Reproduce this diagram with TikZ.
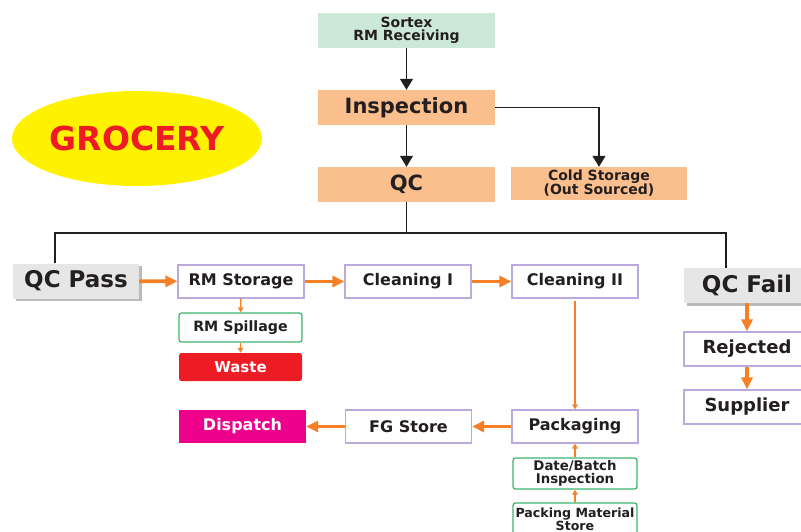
\documentclass[tikz,border=0pt]{standalone}
\usepackage{fontspec}
\setmainfont{DejaVu Sans}
\usetikzlibrary{arrows.meta,shadows,shapes.geometric}
\definecolor{sortexgreen}{HTML}{CCE8D8}
\definecolor{peach}{HTML}{FBBF8D}
\definecolor{boxpurple}{HTML}{B9A9DC}
\definecolor{boxgreen}{HTML}{3DB66E}
\definecolor{arrorange}{HTML}{F58025}
\definecolor{wastered}{HTML}{ED1C24}
\definecolor{magenta2}{HTML}{EC008C}
\definecolor{greyfill}{HTML}{E6E6E6}
\definecolor{yellow2}{HTML}{FFF200}
\definecolor{lineblack}{HTML}{231F20}
\newcommand{\fs}[2]{\fontsize{#1}{#2}\selectfont}
\begin{document}
\begin{tikzpicture}[x=1pt,y=-1pt,
  every node/.style={inner sep=0pt, text=lineblack, align=center},
  peachbox/.style={fill=peach, minimum width=177, minimum height=35},
  pbox/.style={draw=boxpurple, line width=1.2pt, fill=white, minimum width=126, minimum height=33, font=\bfseries\fs{16}{18}},
  gbox/.style={draw=boxgreen, line width=1.3pt, rounded corners=2.5pt, fill=white, minimum width=123, minimum height=29},
  greybox/.style={fill=greyfill, minimum width=126, minimum height=35, font=\bfseries\fs{23}{26},
     drop shadow={shadow xshift=2.5pt, shadow yshift=-2.5pt, fill=black!45, opacity=0.6}},
  blkline/.style={draw=lineblack, line width=1.3pt},
  blkarr/.style={blkline, -{Triangle[width=13pt,length=11pt]}},
  oarr/.style={draw=arrorange, line width=3.8pt, -{Triangle[width=11pt,length=12pt]}},
  othin/.style={draw=arrorange, line width=1.4pt, -{Triangle[width=5.5pt,length=5pt]}}
]
\useasboundingbox (0,0) rectangle (801,532);

% top column
\node[fill=sortexgreen, minimum width=177, minimum height=35, font=\bfseries\fs{14}{13.5}] (sortex) at (406.5,30.5) {Sortex\\RM Receiving};
\node[peachbox, font=\bfseries\fs{21}{24}] (insp) at (406.5,107.5) {Inspection};
\node[peachbox, font=\bfseries\fs{21}{24}] (qc) at (406.5,184.5) {QC};
\node[fill=peach, minimum width=176, minimum height=33, font=\bfseries\fs{14}{14}] (cold) at (599,183.5) {Cold Storage\\(Out Sourced)};

% title ellipse
\node[ellipse, fill=yellow2, minimum width=250, minimum height=95, text=wastered, font=\bfseries\fs{33}{36}] (groc) at (137,138.5) {GROCERY};

% middle row
\node[greybox] (qcpass) at (76,281) {QC Pass};
\node[pbox] (rmst) at (241,281.5) {RM Storage};
\node[pbox] (cl1) at (408,281.5) {Cleaning I};
\node[pbox] (cl2) at (575,281.5) {Cleaning II};
\node[greybox] (qcfail) at (747,285.5) {QC Fail};
\node[pbox, minimum height=34, font=\bfseries\fs{18}{20}] (rej) at (747,349) {Rejected};
\node[pbox, minimum height=34, font=\bfseries\fs{18}{20}] (sup) at (747,407) {Supplier};

\node[gbox, font=\bfseries\fs{14.2}{16}] (spill) at (240.5,327.5) {RM Spillage};
\node[fill=wastered, rounded corners=2.5pt, minimum width=123, minimum height=28, text=white, font=\bfseries\fs{15}{17}] (waste) at (240.5,367) {Waste};

% bottom row
\node[pbox] (pack) at (575,426.5) {Packaging};
\node[pbox] (fg) at (408.5,426.5) {FG Store};
\node[fill=magenta2, minimum width=127, minimum height=33, text=white, font=\bfseries\fs{16}{18}] (disp) at (242.5,426.5) {Dispatch};
\node[gbox, minimum width=124, minimum height=31, font=\bfseries\fs{13.3}{12.5}] (date) at (575,473.5) {Date/Batch\\Inspection};
\node[gbox, minimum width=124, minimum height=32, font=\bfseries\fs{12.6}{12.8}] (pms) at (575,519) {Packing Material\\Store};

% black connectors
\draw[blkarr] (sortex) -- (insp);
\draw[blkarr] (insp) -- (qc);
\draw[blkarr] (insp.east) -| (cold.north);
\coordinate (jl) at (55,233);
\coordinate (jr) at (726,233);
\draw[blkline] (qc.south) -- (qc.south |- jl);
\draw[blkline] (qcpass.north -| jl) -- (jl) -- (jr) -- (qcfail.north -| jr);

% orange connectors
\draw[oarr] (qcpass) -- (rmst);
\draw[oarr] (rmst) -- (cl1);
\draw[oarr] (cl1) -- (cl2);
\draw[othin, shorten <=2pt] (cl2) -- (pack);
\draw[oarr] (pack) -- (fg);
\draw[oarr] (fg) -- (disp);
\draw[oarr] (qcfail) -- (rej);
\draw[oarr] (rej) -- (sup);
\draw[othin] (rmst) -- (spill);
\draw[othin] (spill) -- (waste);
\draw[othin] (pms) -- (date);
\draw[othin] (date) -- (pack);
\end{tikzpicture}
\end{document}
